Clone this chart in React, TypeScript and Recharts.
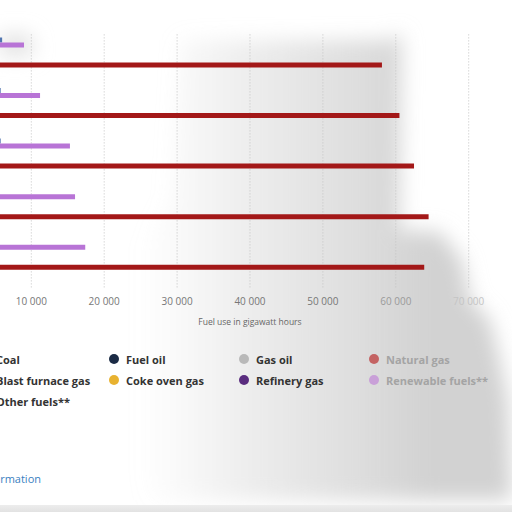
import React from 'react';
import { BarChart, Bar, XAxis, YAxis, CartesianGrid } from 'recharts';

const categories = ['2015', '2016', '2017', '2018', '2019'];
const otherFuels = [6000, 5800, 5800, 4200, 4100];
const renewableFuels = [9000, 11200, 15300, 16000, 17400];
const refineryGas = [3200, 3100, 3000, 2900, 2800];
const cokeOvenGas = [900, 850, 800, 820, 780];
const blastFurnaceGas = [1500, 1400, 1450, 1380, 1300];
const naturalGas = [58100, 60500, 62500, 64500, 63900];
const gasOil = [1200, 1100, 1050, 1000, 980];
const fuelOil = [700, 650, 600, 560, 520];
const coal = [4800, 4200, 3600, 3300, 2900];
const xTicks = [10000, 20000, 30000, 40000, 50000, 60000, 70000];

const data = categories.map((name, i) => ({
  name,
  other: otherFuels[i],
  renewable: renewableFuels[i],
  refinery: refineryGas[i],
  coke: cokeOvenGas[i],
  blast: blastFurnaceGas[i],
  natural: naturalGas[i],
  gasoil: gasOil[i],
  fueloil: fuelOil[i],
  coal: coal[i],
}));

const legendItems = [
  { name: 'Coal', color: '#2b2b2b', col: 0, row: 0 },
  { name: 'Fuel oil', color: '#1b2b45', col: 1, row: 0 },
  { name: 'Gas oil', color: '#b9b9b9', col: 2, row: 0 },
  { name: 'Natural gas', color: '#c46363', col: 3, row: 0, faded: true },
  { name: 'Blast furnace gas', color: '#7a8a99', col: 0, row: 1 },
  { name: 'Coke oven gas', color: '#e8b230', col: 1, row: 1 },
  { name: 'Refinery gas', color: '#5a2d7f', col: 2, row: 1 },
  { name: 'Renewable fuels**', color: '#c9a0d8', col: 3, row: 1, faded: true },
  { name: 'Other fuels**', color: '#5276b0', col: 0, row: 2 },
];

const fmt = (v: number) => String(v).replace(/\B(?=(\d{3})+(?!\d))/g, ' ');

const tickColor = (v: number) => (v >= 70000 ? '#c4c4c4' : v >= 60000 ? '#9a9a9a' : '#777');

const Tick = (props: any) => {
  const { x, y, payload } = props;
  return (
    <text
      x={x}
      y={y}
      dy="0.71em"
      textAnchor="middle"
      fill={tickColor(payload.value)}
      fontSize={10}
      fontFamily='"Open Sans", sans-serif'
    >
      {fmt(payload.value)}
    </text>
  );
};

export default function App() {
  return (
    <div
      style={{
        position: 'absolute',
        left: 0,
        top: 0,
        width: 512,
        height: 512,
        overflow: 'hidden',
        background: '#fff',
        fontFamily: '"Open Sans", sans-serif',
      }}
    >
      <svg width={512} height={512} style={{ position: 'absolute', left: 0, top: 0 }}>
        <defs>
          <filter id="blur" x="-20%" y="-20%" width="140%" height="140%">
            <feGaussianBlur stdDeviation="10" />
          </filter>
          <linearGradient id="fade" gradientUnits="userSpaceOnUse" x1="140" y1="0" x2="430" y2="0">
            <stop offset="0" stopColor="#d8d8d8" stopOpacity="0" />
            <stop offset="0.5" stopColor="#d8d8d8" stopOpacity="0.6" />
            <stop offset="1" stopColor="#d2d2d2" stopOpacity="1" />
          </linearGradient>
        </defs>
        <g filter="url(#blur)">
          <path
            d="M180,40 L392,40 L398,32 L402,40 L400,230 L440,232 L462,260 L470,300 L490,320 L500,360 L508,400 L512,500 L150,500 L120,400 L110,300 L170,200 Z"
            fill="url(#fade)"
          />
          <path d="M0,35 L30,35 L34,55 L0,56 Z" fill="#e0e0e0" />
        </g>
      </svg>
      <div style={{ position: 'absolute', left: -200, top: 0 }}>
        <BarChart
          width={751.6}
          height={327.4}
          data={data}
          layout="vertical"
          margin={{ top: 34.4, right: 10, bottom: 0, left: 158.4 }}
          barSize={5}
          barGap={0}
        >
          <CartesianGrid horizontal={false} stroke="#c4c4c4" strokeDasharray="1 2" />
          <XAxis
            type="number"
            domain={[0, 80000]}
            ticks={xTicks}
            axisLine={false}
            tickLine={false}
            tickMargin={5}
            height={40}
            tick={<Tick />}
          />
          <YAxis type="category" dataKey="name" hide />
          <Bar dataKey="other" fill="#5276b0" isAnimationActive={false} />
          <Bar dataKey="renewable" fill="#b874d6" isAnimationActive={false} />
          <Bar dataKey="refinery" fill="#5a2d7f" isAnimationActive={false} />
          <Bar dataKey="coke" fill="#e8b230" isAnimationActive={false} />
          <Bar dataKey="blast" fill="#7a8a99" isAnimationActive={false} />
          <Bar dataKey="natural" fill="#a31818" isAnimationActive={false} />
          <Bar dataKey="gasoil" fill="#b9b9b9" isAnimationActive={false} />
          <Bar dataKey="fueloil" fill="#1b2b45" isAnimationActive={false} />
          <Bar dataKey="coal" fill="#2b2b2b" isAnimationActive={false} />
        </BarChart>
      </div>
      <div
        style={{
          position: 'absolute',
          left: 150,
          width: 200,
          top: 316,
          textAlign: 'center',
          fontSize: 8.5,
          color: '#666',
        }}
      >
        Fuel use in gigawatt hours
      </div>
      {legendItems.map((it) => (
        <div
          key={it.name}
          style={{
            position: 'absolute',
            left: -21 + it.col * 130,
            top: 351 + it.row * 21,
            height: 16,
            display: 'flex',
            alignItems: 'center',
            whiteSpace: 'nowrap',
          }}
        >
          <span
            style={{
              display: 'inline-block',
              width: 10,
              height: 10,
              borderRadius: 5,
              background: it.color,
              marginRight: 7,
            }}
          />
          <span style={{ fontSize: 11, fontWeight: 700, color: it.faded ? '#a4a4a4' : '#333' }}>{it.name}</span>
        </div>
      ))}
      <div
        style={{
          position: 'absolute',
          right: 471,
          top: 471,
          fontSize: 11,
          color: '#3a7fbf',
          whiteSpace: 'nowrap',
        }}
      >
        More information
      </div>
      <div
        style={{
          position: 'absolute',
          left: 0,
          top: 505,
          width: 512,
          height: 7,
          background: 'linear-gradient(#ededed, #e2e2e2)',
        }}
      />
    </div>
  );
}
